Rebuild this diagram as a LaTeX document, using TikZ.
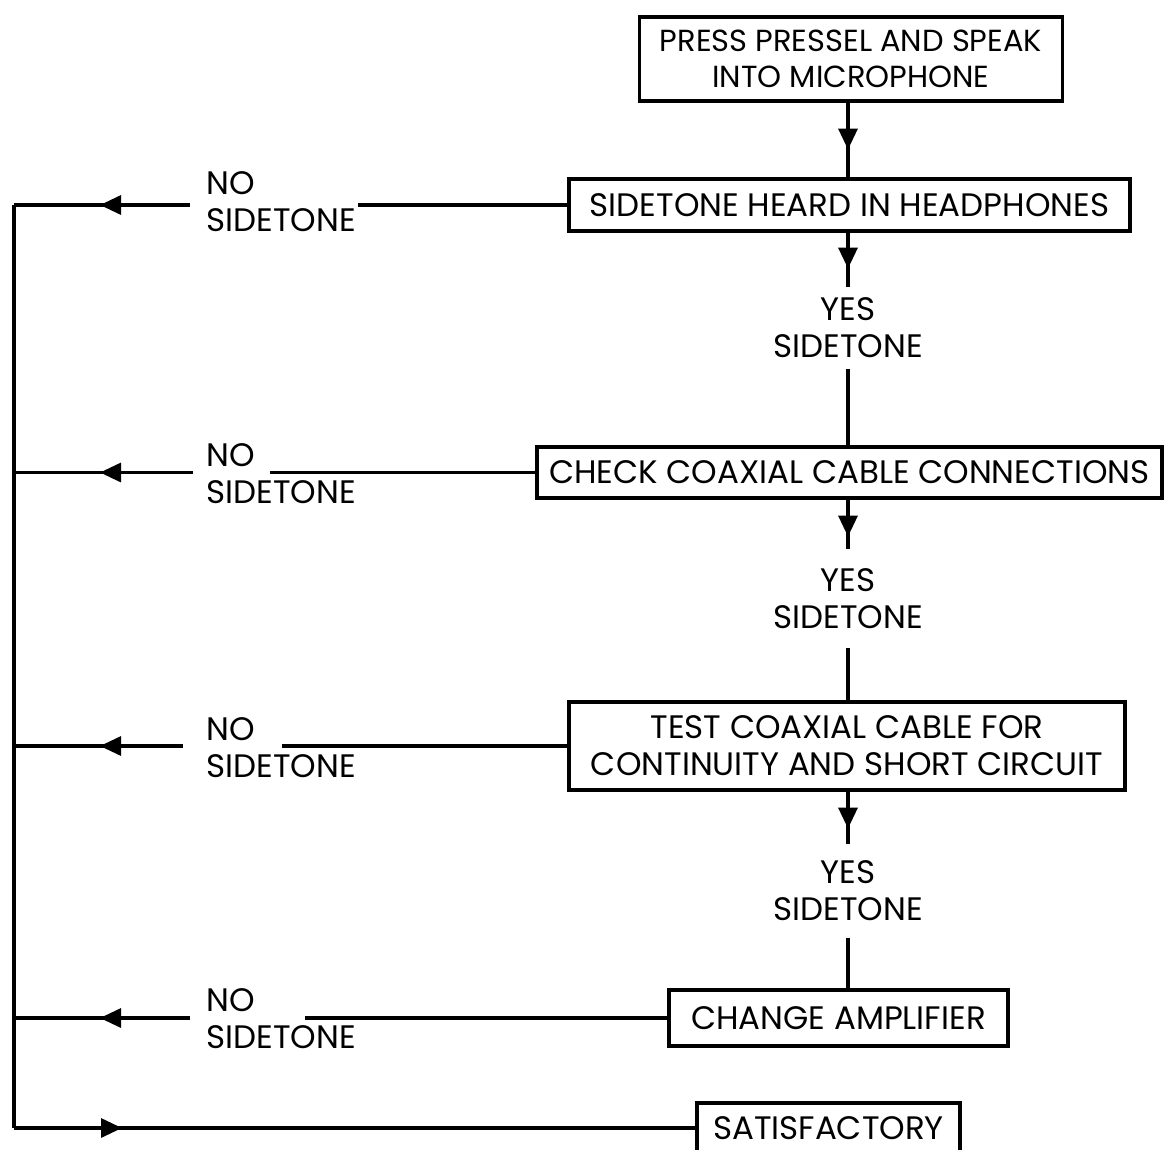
\documentclass[tikz,border=0pt]{standalone}
\usepackage{fontspec}
\setmainfont{Poppins}
\usetikzlibrary{arrows.meta,decorations.markings}
\begin{document}
\begin{tikzpicture}[x=1pt,y=-1pt,line width=3.2pt,
  txt/.style={font=\fontsize{32.5}{37}\selectfont},
  box/.style={txt,draw,align=center,inner sep=0pt,minimum width=#1},
  yes/.style={txt,align=center,inner sep=0pt,minimum height=#1},
  nolbl/.style={txt,align=left,inner sep=0pt,anchor=west},
  arrat/.style={postaction={decorate},decoration={markings,
     mark=at position #1 with {\arrow{Triangle[length=21pt,width=19pt]}}}}]
\useasboundingbox (0,0) rectangle (1165,1149);
% boxes
\node[box=423pt,minimum height=84pt,font=\fontsize{30.5}{36}\selectfont] (b1) at (851,59) {PRESS PRESSEL AND SPEAK\\INTO MICROPHONE};
\node[box=561pt,minimum height=52pt] (b2) at (849.5,205) {SIDETONE HEARD IN HEADPHONES};
\node[box=625pt,minimum height=51pt] (b3) at (849.5,472.5) {CHECK COAXIAL CABLE CONNECTIONS};
\node[box=556pt,minimum height=88pt] (b4) at (847,746) {TEST COAXIAL CABLE FOR\\CONTINUITY AND SHORT CIRCUIT};
\node[box=339pt,minimum height=56pt] (b5) at (838.5,1018) {CHANGE AMPLIFIER};
\node[box=263pt,minimum height=50pt] (b6) at (828.5,1128) {SATISFACTORY};
% yes labels
\node[yes=78pt] (y1) at (848,328) {YES\\SIDETONE};
\node[yes=95pt] (y2) at (848,598.5) {YES\\SIDETONE};
\node[yes=90pt] (y3) at (848,891) {YES\\SIDETONE};
% no labels
\node[nolbl] (n1) at (205,201.5) {NO\\SIDETONE};
\node[nolbl] (n2) at (205,473.5) {NO\\SIDETONE};
\node[nolbl] (n3) at (205,748) {NO\\SIDETONE};
\node[nolbl] (n4) at (205,1019) {NO\\SIDETONE};
% helper coordinates
\coordinate (v) at (848,0);
\coordinate (r1) at (358,205);   \coordinate (l1) at (190,205);   \coordinate (s1) at (14,205);
\coordinate (r2) at (270,472.5); \coordinate (l2) at (193,472.5); \coordinate (s2) at (14,472.5);
\coordinate (r3) at (282,746);   \coordinate (l3) at (183,746);   \coordinate (s3) at (14,746);
\coordinate (r4) at (305,1018);  \coordinate (l4) at (190,1018);  \coordinate (s4) at (14,1018);
\coordinate (s5) at (14,1128);
% main flow
\draw[arrat=47pt] (b1.south -| v) -- (b2.north -| v);
\draw[arrat=36pt] (b2.south -| v) -- (y1.north);
\draw (y1.south) -- (b3.north -| v);
\draw[arrat=37pt] (b3.south -| v) -- (y2.north);
\draw (y2.south) -- (b4.north -| v);
\draw[arrat=37pt] (b4.south -| v) -- (y3.north);
\draw (y3.south) -- (b5.north -| v);
% no branches
\draw (b2.west) -- (r1);
\draw (b3.west) -- (r2);
\draw (b4.west) -- (r3);
\draw (b5.west) -- (r4);
\draw[arrat=-86pt] (l1) -- (s1);
\draw[arrat=-86pt] (l2) -- (s2);
\draw[arrat=-86pt] (l3) -- (s3);
\draw[arrat=-86pt] (l4) -- (s4);
% bus
\draw (s1) -- (s5);
\draw[arrat=108pt] (s5) -- (b6.west);
\end{tikzpicture}
\end{document}
